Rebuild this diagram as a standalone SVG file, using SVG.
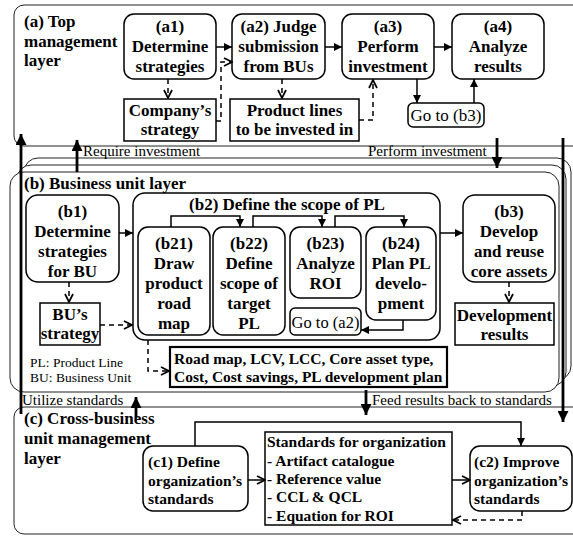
<svg xmlns="http://www.w3.org/2000/svg" width="573" height="537" viewBox="0 0 573 537">
<defs>
<style>
.frame{fill:none;stroke:#222;stroke-width:1}
.fs{fill:#fff;stroke:#222;stroke-width:1}
.node{fill:#fff;stroke:#000;stroke-width:1.5}
.t{font-family:"Liberation Serif","Times New Roman",serif;font-weight:bold;font-size:17px;fill:#000;text-anchor:middle}
.tl{font-family:"Liberation Serif","Times New Roman",serif;font-weight:bold;font-size:17px;fill:#000;text-anchor:start}
.s{font-size:15.5px}
.n{font-family:"Liberation Serif","Times New Roman",serif;font-weight:normal;fill:#000}
.ln{fill:none;stroke:#000;stroke-width:1.5}
.dl{fill:none;stroke:#000;stroke-width:1.5;stroke-dasharray:5 4}
.th{fill:none;stroke:#000;stroke-width:2.8}
</style>
<marker id="fa" viewBox="0 0 10 10" refX="10" refY="5" markerWidth="8" markerHeight="8" markerUnits="userSpaceOnUse" orient="auto"><path d="M0,0 L10,5 L0,10 z" fill="#000"/></marker>
<marker id="ba" viewBox="0 0 10 10" refX="10" refY="5" markerWidth="11" markerHeight="11" markerUnits="userSpaceOnUse" orient="auto"><path d="M0,0 L10,5 L0,10 z" fill="#000"/></marker>
<marker id="oa" viewBox="0 0 10 10" refX="9" refY="5" markerWidth="10" markerHeight="10" markerUnits="userSpaceOnUse" orient="auto"><path d="M1,1 L9,5 L1,9" fill="none" stroke="#000" stroke-width="1.7"/></marker>
</defs>
<rect width="573" height="537" fill="#fff"/>

<g id="layer-a">
<rect class="frame" x="14" y="5" width="620" height="141" rx="10"/>
<text class="tl" x="24" y="27">(a) Top</text>
<text class="tl" x="24" y="47">management</text>
<text class="tl" x="24" y="66">layer</text>
</g>

<g id="layer-b">
<rect class="fs" x="24" y="158" width="547" height="222" rx="14"/>
<rect class="fs" x="17" y="165" width="549" height="221" rx="14"/>
<rect class="fs" x="10" y="172" width="549" height="220" rx="14"/>
<text class="tl" x="24" y="189">(b) Business unit layer</text>
<text class="n" x="30" y="367" font-size="13.5">PL: Product Line</text>
<text class="n" x="30" y="382" font-size="13.5">BU: Business Unit</text>
</g>

<g id="layer-c">
<rect class="frame" x="14" y="407" width="620" height="127" rx="10"/>
<text class="tl" x="24" y="424">(c) Cross-business</text>
<text class="tl" x="24" y="444">unit management</text>
<text class="tl" x="24" y="464">layer</text>
</g>

<g id="band-labels">
<text class="n" x="83" y="156" font-size="15">Require investment</text>
<text class="n" x="368" y="156" font-size="15">Perform investment</text>
<text class="n" x="22" y="405" font-size="15">Utilize standards</text>
<text class="n" x="372" y="405" font-size="15">Feed results back to standards</text>
</g>

<g id="a1"><rect class="node" x="124" y="14" width="92" height="65" rx="10"/>
<text class="t" x="170" y="32">(a1)</text><text class="t" x="170" y="52">Determine</text><text class="t" x="170" y="72">strategies</text></g>
<g id="a1-out"><rect class="node" x="124" y="99" width="92" height="42"/>
<text class="t" x="170" y="116">Company’s</text><text class="t" x="170" y="135">strategy</text></g>
<g id="a2"><rect class="node" x="232" y="14" width="93" height="65" rx="10"/>
<text class="t" x="278.5" y="32">(a2) Judge</text><text class="t" x="278.5" y="52">submission</text><text class="t" x="278.5" y="72">from BUs</text></g>
<g id="a2-out"><rect class="node" x="230" y="99" width="129" height="42"/>
<text class="t" x="294.5" y="116">Product lines</text><text class="t" x="294.5" y="135">to be invested in</text></g>
<g id="a3"><rect class="node" x="342" y="14" width="92" height="65" rx="10"/>
<text class="t" x="388" y="32">(a3)</text><text class="t" x="388" y="52">Perform</text><text class="t" x="388" y="72">investment</text></g>
<g id="goto-b3"><rect class="node" x="408" y="103" width="76" height="24" rx="5"/>
<text class="n" x="446" y="121" font-size="17" text-anchor="middle">Go to (b3)</text></g>
<g id="a4"><rect class="node" x="452" y="14" width="92" height="65" rx="10"/>
<text class="t" x="498" y="32">(a4)</text><text class="t" x="498" y="52">Analyze</text><text class="t" x="498" y="72">results</text></g>

<g id="b1"><rect class="node" x="26" y="195" width="93" height="87" rx="12"/>
<text class="t" x="72.5" y="217">(b1)</text><text class="t" x="72.5" y="237">Determine</text><text class="t" x="72.5" y="257">strategies</text><text class="t" x="72.5" y="277">for BU</text></g>
<g id="b1-out"><rect class="node" x="40" y="303" width="60" height="42"/>
<text class="t" x="70" y="320">BU’s</text><text class="t" x="70" y="339">strategy</text></g>
<g id="b2"><rect class="node" x="133" y="193" width="307" height="147" rx="12"/>
<text class="t" x="287" y="210">(b2) Define the scope of PL</text></g>
<g id="b21"><rect class="node" x="138" y="227" width="72" height="108" rx="10"/>
<text class="t" x="174" y="249">(b21)</text><text class="t" x="174" y="269">Draw</text><text class="t" x="174" y="289">product</text><text class="t" x="174" y="309">road</text><text class="t" x="174" y="329">map</text></g>
<g id="b22"><rect class="node" x="213" y="227" width="72" height="108" rx="10"/>
<text class="t" x="249" y="249">(b22)</text><text class="t" x="249" y="269">Define</text><text class="t" x="249" y="289">scope of</text><text class="t" x="249" y="309">target</text><text class="t" x="249" y="329">PL</text></g>
<g id="b23"><rect class="node" x="290" y="227" width="71" height="71" rx="10"/>
<text class="t" x="325.5" y="249">(b23)</text><text class="t" x="325.5" y="269">Analyze</text><text class="t" x="325.5" y="289">ROI</text></g>
<g id="goto-a2"><rect class="node" x="290" y="308" width="71" height="27" rx="5"/>
<text class="n" x="325.5" y="328" font-size="16.5" text-anchor="middle">Go to (a2)</text></g>
<g id="b24"><rect class="node" x="366" y="227" width="70" height="93" rx="10"/>
<text class="t" x="401" y="249">(b24)</text><text class="t" x="401" y="269">Plan PL</text><text class="t" x="401" y="289">develo-</text><text class="t" x="401" y="309">pment</text></g>
<g id="b2-out"><rect x="170" y="347" width="277" height="40" fill="#fff" stroke="#000" stroke-width="2.2"/>
<text class="tl s" x="174" y="364">Road map, LCV, LCC, Core asset type,</text>
<text class="tl s" x="174" y="382">Cost, Cost savings, PL development plan</text></g>
<g id="b3"><rect class="node" x="463" y="195" width="92" height="87" rx="12"/>
<text class="t" x="509" y="217">(b3)</text><text class="t" x="509" y="237">Develop</text><text class="t" x="509" y="257">and reuse</text><text class="t" x="509" y="277">core assets</text></g>
<g id="b3-out"><rect class="node" x="455" y="303" width="99" height="42"/>
<text class="t" x="504.5" y="321">Development</text><text class="t" x="504.5" y="340">results</text></g>

<g id="c1"><rect class="node" x="143" y="446" width="105" height="65" rx="10"/>
<text class="tl s" x="148" y="467">(c1) Define</text><text class="tl s" x="148" y="486">organization’s</text><text class="tl s" x="148" y="504">standards</text></g>
<g id="standards"><rect class="node" x="265" y="432" width="187" height="93"/>
<text class="tl s" x="267" y="447">Standards for organization</text>
<text class="tl s" x="267" y="466">- Artifact catalogue</text>
<text class="tl s" x="267" y="484">- Reference value</text>
<text class="tl s" x="267" y="502">- CCL &amp; QCL</text>
<text class="tl s" x="267" y="521">- Equation for ROI</text></g>
<g id="c2"><rect class="node" x="470" y="446" width="102" height="65" rx="10"/>
<text class="tl s" x="474" y="467">(c2) Improve</text><text class="tl s" x="474" y="486">organization’s</text><text class="tl s" x="474" y="504">standards</text></g>

<g id="connectors">
<path class="ln" d="M216,47 H232" marker-end="url(#fa)"/>
<path class="dl" d="M168,79 V98" marker-end="url(#oa)"/>
<path class="dl" d="M216,121 H221 V62 H232" marker-end="url(#oa)"/>
<path class="dl" d="M282,79 V98" marker-end="url(#oa)"/>
<path class="ln" d="M325,47 H342" marker-end="url(#fa)"/>
<path class="dl" d="M359,120 H373 V80" marker-end="url(#oa)"/>
<path class="ln" d="M417,79 V103" marker-end="url(#fa)"/>
<path class="ln" d="M474,103 V79" marker-end="url(#fa)"/>
<path class="ln" d="M434,47 H452" marker-end="url(#fa)"/>

<path class="ln" d="M119,233 H133" marker-end="url(#fa)"/>
<path class="dl" d="M69,282 V302" marker-end="url(#oa)"/>
<path class="dl" d="M100,325 H132" marker-end="url(#oa)"/>
<path class="ln" d="M171,227 V216 H240 V227" marker-end="url(#fa)"/>
<path class="ln" d="M253,227 V216 H322 V227" marker-end="url(#fa)"/>
<path class="ln" d="M335,227 V216 H404 V227" marker-end="url(#fa)"/>
<path class="ln" d="M403,320 V330 H361" marker-end="url(#fa)"/>
<path class="ln" d="M440,233 H463" marker-end="url(#fa)"/>
<path class="dl" d="M509,282 V302" marker-end="url(#oa)"/>
<path class="dl" d="M148,340 V371 H169" marker-end="url(#oa)"/>

<path class="ln" d="M195,446 V422 H521 V446" marker-end="url(#fa)"/>
<path class="ln" d="M248,480 H265" marker-end="url(#oa)"/>
<path class="ln" d="M452,480 H470" marker-end="url(#oa)"/>
<path class="dl" d="M522,511 V520 H453" marker-end="url(#oa)"/>

<path class="th" d="M21,414 V134" marker-end="url(#ba)"/>
<path class="th" d="M563,138 V422" marker-end="url(#ba)"/>
<path class="th" d="M77,172 V140" marker-end="url(#ba)"/>
<path class="th" d="M497,138 V168" marker-end="url(#ba)"/>
<path class="th" d="M136,418 V397" marker-end="url(#ba)"/>
<path class="th" d="M366,390 V415" marker-end="url(#ba)"/>
</g>
</svg>
